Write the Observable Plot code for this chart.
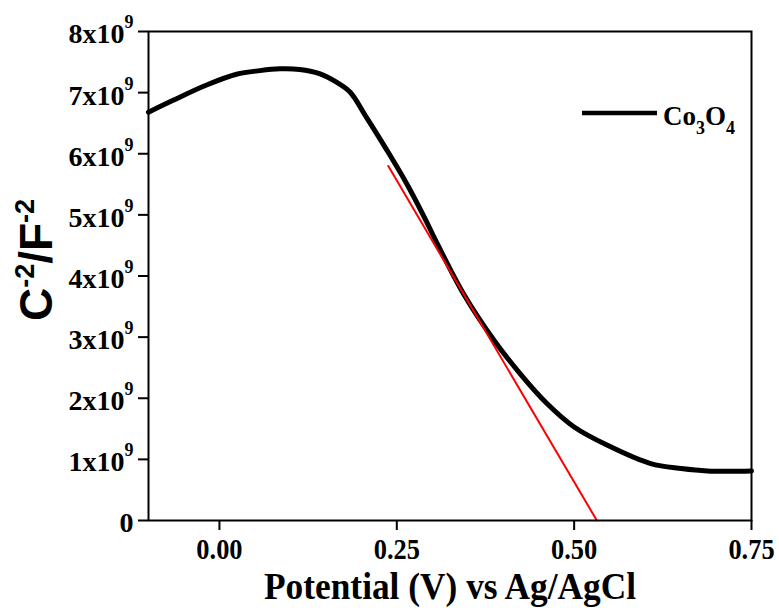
<!DOCTYPE html>
<html>
<head>
<meta charset="utf-8">
<script src="https://cdn.jsdelivr.net/npm/d3@7"></script>
<script src="https://cdn.jsdelivr.net/npm/@observablehq/plot@0.6"></script>
<style>
  body { margin: 0; background: #fff; }
  #chart { width: 779px; height: 610px; }
</style>
</head>
<body>
<div id="chart"></div>
<script>
// Mott–Schottky plot of Co3O4: C^-2 vs potential (V vs Ag/AgCl)
const potential = [-0.1, -0.066, -0.019, 0.024, 0.057, 0.085, 0.113, 0.141, 0.165, 0.184,
  0.207, 0.236, 0.264, 0.288, 0.307, 0.344, 0.387, 0.424, 0.462, 0.5,
  0.547, 0.608, 0.651, 0.688, 0.75];
const invC2 = [6.68e9, 6.87e9, 7.12e9, 7.3e9, 7.36e9, 7.39e9, 7.38e9, 7.31e9, 7.17e9, 7.01e9,
  6.6e9, 6.06e9, 5.51e9, 4.98e9, 4.53e9, 3.71e9, 2.95e9, 2.4e9, 1.91e9, 1.53e9,
  1.23e9, 0.93e9, 0.85e9, 0.81e9, 0.81e9];

// Linear fit of the depletion region, extrapolated to the flat-band potential
const fitPotential = [0.238, 0.532];
const fitInvC2 = [5.8e9, 0];

const xTicks = [0, 0.25, 0.5, 0.75];
const yTicks = [0, 1e9, 2e9, 3e9, 4e9, 5e9, 6e9, 7e9, 8e9];
const xTitle = "Potential (V) vs Ag/AgCl";

const curve = potential.map((x, i) => ({x, y: invC2[i]}));
const fit = fitPotential.map((x, i) => ({x, y: fitInvC2[i]}));

const serif = "'Liberation Serif', 'Times New Roman', serif";
const sans = "'Liberation Sans', Arial, sans-serif";

const plot = Plot.plot({
  width: 779,
  height: 610,
  marginLeft: 148,
  marginRight: 28,
  marginTop: 31,
  marginBottom: 90,
  style: {fontFamily: serif, fontWeight: "bold", fontSize: "27px", color: "black", background: "white"},
  x: {domain: [-0.1, 0.75]},
  y: {domain: [0, 8e9]},
  marks: [
    Plot.line(curve, {x: "x", y: "y", stroke: "black", strokeWidth: 5, curve: "catmull-rom"}),
    Plot.line(fit, {x: "x", y: "y", stroke: "red", strokeWidth: 2}),
    Plot.frame({stroke: "black", strokeWidth: 2}),
    Plot.axisX({ticks: xTicks, tickSize: 10, tickPadding: 7, strokeWidth: 2,
      tickFormat: d => d.toFixed(2), label: null}),
    Plot.axisY({ticks: yTicks, tickSize: 10, tickPadding: 5, strokeWidth: 2,
      tickFormat: d => d === 0 ? "0" : `${d / 1e9}x10`, label: null})
  ]
});

document.getElementById("chart").appendChild(plot);

const svg = d3.select(plot);

// x tick labels: tall, slightly condensed numerals
const xLabels = svg.select('[aria-label="x-axis tick label"]').attr("font-size", 30);
xLabels.selectAll("text").each(function() {
  const w = this.getComputedTextLength();
  d3.select(this).attr("textLength", w * 0.88).attr("lengthAdjust", "spacingAndGlyphs");
});

// y tick labels with the exponent as a superscript
const yLabels = svg.select('[aria-label="y-axis tick label"]').attr("font-size", 28);
yLabels.attr("transform", "translate(0,3) " + (yLabels.attr("transform") || ""));
yLabels.selectAll("text").each(function() {
  const t = d3.select(this);
  if (t.text() !== "0") {
    t.append("tspan").attr("font-size", 18).attr("dy", -15).text("9");
  }
});

// x axis title
svg.append("text")
  .attr("transform", "translate(450,599) scale(0.93,1)")
  .attr("text-anchor", "middle")
  .attr("font-family", serif).attr("font-weight", "bold").attr("font-size", 38)
  .text(xTitle);

// y axis title: C^-2/F^-2
const yt = svg.append("text")
  .attr("transform", "translate(52,260) rotate(-90)")
  .attr("text-anchor", "middle")
  .attr("font-family", sans).attr("font-weight", "bold").attr("font-size", 46);
yt.append("tspan").text("C");
yt.append("tspan").attr("font-size", 27).attr("dy", -18).text("-2");
yt.append("tspan").attr("dy", 18).text("/F");
yt.append("tspan").attr("font-size", 27).attr("dy", -18).text("-2");

// legend
const lg = svg.append("g");
lg.append("line").attr("x1", 582).attr("x2", 657).attr("y1", 113).attr("y2", 113)
  .attr("stroke", "black").attr("stroke-width", 4.5);
const lt = lg.append("text").attr("x", 663).attr("y", 125)
  .attr("text-anchor", "start")
  .attr("font-family", serif).attr("font-weight", "bold").attr("font-size", 27);
lt.append("tspan").text("Co");
lt.append("tspan").attr("font-size", 18).attr("dy", 9).text("3");
lt.append("tspan").attr("dy", -9).text("O");
lt.append("tspan").attr("font-size", 18).attr("dy", 9).text("4");
</script>
</body>
</html>
